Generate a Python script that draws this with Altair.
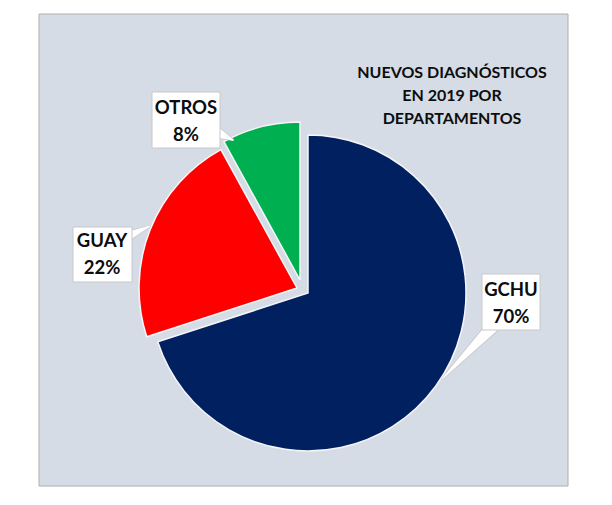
import altair as alt
import pandas as pd

# ---- data ----
categories = ["GCHU", "GUAY", "OTROS"]
values = [70, 22, 8]
title_lines = ["NUEVOS DIAGNÓSTICOS", "EN 2019 POR", "DEPARTAMENTOS"]

# ---- styles / layout ----
colors = ["#002060", "#FF0000", "#00B050"]
explode = {"GCHU": (0, 0), "GUAY": (-11, -5), "OTROS": (-8, -13)}
CX, CY, R = 308, 293, 158
label_pos = {"GCHU": (511, 290), "GUAY": (102, 241), "OTROS": (186, 108)}
label_box = {"GCHU": (482, 274, 540, 330), "GUAY": (73, 227, 132, 282), "OTROS": (152, 92, 220, 148)}
callouts = {
    "GCHU": [(497, 322, 13), (442, 379, 0)],
    "GUAY": [(124, 238, 10), (150, 226, 0)],
    "OTROS": [(214, 131, 12), (233, 140, 0)],
}
FONT = "Lato"
W, H = 612, 505

slices = pd.DataFrame({
    "category": categories,
    "value": values,
    "order": list(range(len(categories))),
    "dx": [explode[c][0] for c in categories],
    "dy": [explode[c][1] for c in categories],
    "lx": [label_pos[c][0] for c in categories],
    "ly": [label_pos[c][1] for c in categories],
    "bx": [label_box[c][0] for c in categories],
    "by": [label_box[c][1] for c in categories],
    "bx2": [label_box[c][2] for c in categories],
    "by2": [label_box[c][3] for c in categories],
})

trail_rows = []
for c in categories:
    for i, (x, y, w) in enumerate(callouts[c]):
        trail_rows.append({"category": c, "i": i, "x": x, "y": y, "w": w})
trail_df = pd.DataFrame(trail_rows)

color_scale = alt.Scale(domain=categories, range=colors)

panel = alt.Chart(pd.DataFrame({"a": [0]})).mark_rect(
    fill="#D6DCE5", stroke="#AEAEAE", strokeWidth=1
).encode(x=alt.value(39), x2=alt.value(568), y=alt.value(14), y2=alt.value(486))

base = alt.Chart(slices).transform_joinaggregate(
    total="sum(value)"
).transform_window(
    cum="sum(value)", sort=[alt.SortField("order")], frame=[None, 0]
).transform_calculate(
    t0="(datum.cum - datum.value) / datum.total * 2 * PI",
    t1="datum.cum / datum.total * 2 * PI",
    px=f"{CX} + datum.dx",
    py=f"{CY} + datum.dy",
    txt="[datum.category, round(datum.value / datum.total * 100) + '%']",
)

arcs = base.mark_arc(radius=R, stroke="#F4F6F8", strokeWidth=1.5).encode(
    x=alt.X("px:Q", scale=None, axis=None),
    y=alt.Y("py:Q", scale=None, axis=None),
    theta=alt.Theta("t0:Q", scale=None, stack=False),
    theta2="t1:Q",
    color=alt.Color("category:N", scale=color_scale, legend=None),
)

trails_edge = alt.Chart(trail_df).transform_calculate(w2="datum.w + 2").mark_trail(
    color="#C8C8C8"
).encode(
    x=alt.X("x:Q", scale=None, axis=None),
    y=alt.Y("y:Q", scale=None, axis=None),
    size=alt.Size("w2:Q", scale=None, legend=None),
    detail="category:N",
    order="i:O",
)
trails = alt.Chart(trail_df).mark_trail(color="white").encode(
    x=alt.X("x:Q", scale=None, axis=None),
    y=alt.Y("y:Q", scale=None, axis=None),
    size=alt.Size("w:Q", scale=None, legend=None),
    detail="category:N",
    order="i:O",
)

boxes = base.mark_rect(fill="white", stroke="#C8C8C8", strokeWidth=1).encode(
    x=alt.X("bx:Q", scale=None, axis=None),
    x2="bx2:Q",
    y=alt.Y("by:Q", scale=None, axis=None),
    y2="by2:Q",
)

labels = base.mark_text(
    font=FONT, fontSize=18.5, fontWeight="bold", color="#0D0D0D",
    align="center", baseline="middle", lineHeight=27,
).encode(
    x=alt.X("lx:Q", scale=None, axis=None),
    y=alt.Y("ly:Q", scale=None, axis=None),
    text="txt:N",
)

title = alt.Chart(pd.DataFrame({"a": [0]})).mark_text(
    text=title_lines, font=FONT, fontSize=16, fontWeight="bold", color="#0D0D0D",
    align="center", baseline="middle", lineHeight=23,
).encode(x=alt.value(452), y=alt.value(73))

chart = alt.layer(panel, arcs, trails_edge, trails, boxes, labels, title).properties(
    width=W, height=H, padding=0, autosize=alt.AutoSizeParams(type="none"),
    background="white",
).configure_view(stroke=None)

chart.save("out.html", embed_options={"renderer": "svg", "actions": False})
